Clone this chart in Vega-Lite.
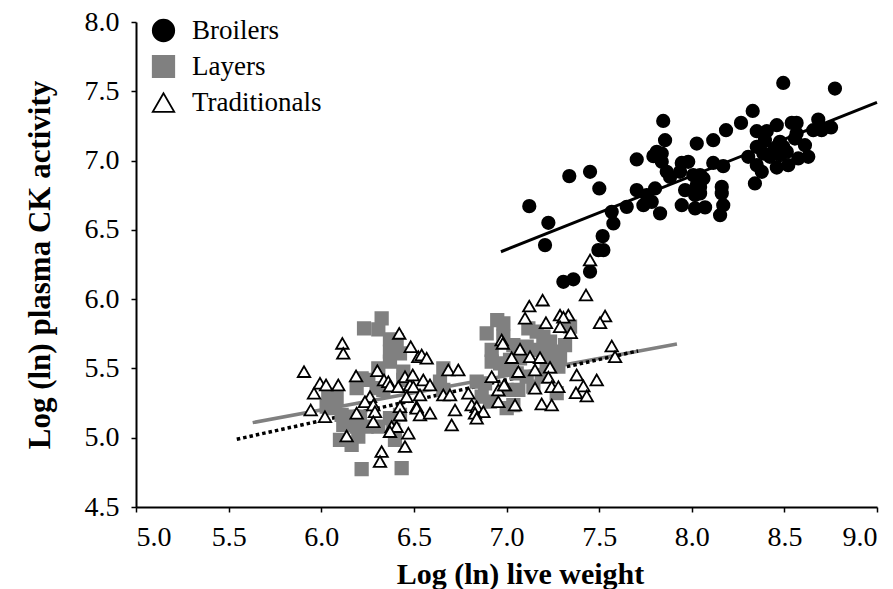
{
  "$schema": "https://vega.github.io/schema/vega-lite/v6.json",
  "width": 741,
  "height": 485,
  "autosize": "none",
  "padding": {"left": 136, "top": 22, "right": 16, "bottom": 82},
  "background": "white",
  "config": {
    "view": {"stroke": null},
    "font": "Liberation Serif",
    "axis": {"labelFont": "Liberation Serif", "titleFont": "Liberation Serif"},
    "legend": {"labelFont": "Liberation Serif"}
  },
  "datasets": {
    "points": [
      {"g":"Broilers","x":8.494,"y":7.56},{"g":"Broilers","x":8.773,"y":7.52},{"g":"Broilers","x":8.329,"y":7.358},{"g":"Broilers","x":7.846,"y":7.286},
      {"g":"Broilers","x":8.266,"y":7.272},{"g":"Broilers","x":8.459,"y":7.255},{"g":"Broilers","x":8.54,"y":7.272},{"g":"Broilers","x":8.566,"y":7.272},
      {"g":"Broilers","x":8.683,"y":7.296},{"g":"Broilers","x":8.185,"y":7.219},{"g":"Broilers","x":8.351,"y":7.212},{"g":"Broilers","x":8.405,"y":7.212},
      {"g":"Broilers","x":8.656,"y":7.219},{"g":"Broilers","x":8.701,"y":7.219},{"g":"Broilers","x":8.752,"y":7.239},{"g":"Broilers","x":7.856,"y":7.147},
      {"g":"Broilers","x":8.027,"y":7.123},{"g":"Broilers","x":8.116,"y":7.147},{"g":"Broilers","x":8.395,"y":7.147},{"g":"Broilers","x":8.476,"y":7.135},
      {"g":"Broilers","x":8.459,"y":7.099},{"g":"Broilers","x":8.494,"y":7.099},{"g":"Broilers","x":8.44,"y":7.063},{"g":"Broilers","x":8.513,"y":7.063},
      {"g":"Broilers","x":8.476,"y":7.039},{"g":"Broilers","x":8.422,"y":7.027},{"g":"Broilers","x":8.557,"y":7.159},{"g":"Broilers","x":8.611,"y":7.111},
      {"g":"Broilers","x":8.351,"y":7.099},{"g":"Broilers","x":8.386,"y":7.051},{"g":"Broilers","x":8.305,"y":7.027},{"g":"Broilers","x":8.575,"y":7.015},
      {"g":"Broilers","x":8.629,"y":7.027},{"g":"Broilers","x":8.521,"y":6.967},{"g":"Broilers","x":8.459,"y":6.95},{"g":"Broilers","x":8.351,"y":6.967},
      {"g":"Broilers","x":8.378,"y":6.919},{"g":"Broilers","x":8.341,"y":6.835},{"g":"Broilers","x":7.811,"y":7.063},{"g":"Broilers","x":7.838,"y":7.051},
      {"g":"Broilers","x":7.793,"y":7.032},{"g":"Broilers","x":7.838,"y":6.991},{"g":"Broilers","x":7.703,"y":7.008},{"g":"Broilers","x":7.946,"y":6.983},
      {"g":"Broilers","x":7.981,"y":6.991},{"g":"Broilers","x":8.116,"y":6.983},{"g":"Broilers","x":8.17,"y":6.96},{"g":"Broilers","x":7.865,"y":6.919},
      {"g":"Broilers","x":7.883,"y":6.882},{"g":"Broilers","x":7.937,"y":6.919},{"g":"Broilers","x":8.008,"y":6.895},{"g":"Broilers","x":8.045,"y":6.895},
      {"g":"Broilers","x":8.063,"y":6.871},{"g":"Broilers","x":8.027,"y":6.823},{"g":"Broilers","x":8.045,"y":6.81},{"g":"Broilers","x":7.964,"y":6.787},
      {"g":"Broilers","x":8.018,"y":6.751},{"g":"Broilers","x":8.045,"y":6.763},{"g":"Broilers","x":8.162,"y":6.81},{"g":"Broilers","x":8.162,"y":6.763},
      {"g":"Broilers","x":8.17,"y":6.678},{"g":"Broilers","x":8.153,"y":6.606},{"g":"Broilers","x":7.946,"y":6.678},{"g":"Broilers","x":8.018,"y":6.655},
      {"g":"Broilers","x":8.072,"y":6.662},{"g":"Broilers","x":7.829,"y":6.619},{"g":"Broilers","x":7.703,"y":6.787},{"g":"Broilers","x":7.802,"y":6.799},
      {"g":"Broilers","x":7.757,"y":6.751},{"g":"Broilers","x":7.784,"y":6.702},{"g":"Broilers","x":7.739,"y":6.678},{"g":"Broilers","x":7.649,"y":6.666},
      {"g":"Broilers","x":7.568,"y":6.63},{"g":"Broilers","x":7.577,"y":6.546},{"g":"Broilers","x":7.519,"y":6.455},{"g":"Broilers","x":7.496,"y":6.354},
      {"g":"Broilers","x":7.523,"y":6.354},{"g":"Broilers","x":7.451,"y":6.198},{"g":"Broilers","x":7.307,"y":6.125},{"g":"Broilers","x":7.361,"y":6.143},
      {"g":"Broilers","x":7.339,"y":6.888},{"g":"Broilers","x":7.451,"y":6.919},{"g":"Broilers","x":7.501,"y":6.799},{"g":"Broilers","x":7.123,"y":6.671},
      {"g":"Broilers","x":7.226,"y":6.551},{"g":"Broilers","x":7.208,"y":6.39},{"g":"Broilers","x":8.566,"y":7.195},

      {"g":"Layers","x":6.326,"y":5.862},{"g":"Layers","x":6.231,"y":5.789},{"g":"Layers","x":6.308,"y":5.782},{"g":"Layers","x":6.371,"y":5.71},
      {"g":"Layers","x":6.407,"y":5.705},{"g":"Layers","x":6.371,"y":5.621},{"g":"Layers","x":6.425,"y":5.609},{"g":"Layers","x":6.371,"y":5.549},
      {"g":"Layers","x":6.308,"y":5.501},{"g":"Layers","x":6.443,"y":5.477},{"g":"Layers","x":6.218,"y":5.429},{"g":"Layers","x":6.254,"y":5.417},
      {"g":"Layers","x":6.191,"y":5.357},{"g":"Layers","x":6.038,"y":5.309},{"g":"Layers","x":6.083,"y":5.285},{"g":"Layers","x":6.029,"y":5.224},
      {"g":"Layers","x":6.065,"y":5.213},{"g":"Layers","x":6.11,"y":5.164},{"g":"Layers","x":6.119,"y":5.092},{"g":"Layers","x":6.173,"y":5.152},
      {"g":"Layers","x":6.209,"y":5.152},{"g":"Layers","x":6.191,"y":5.08},{"g":"Layers","x":6.245,"y":5.08},{"g":"Layers","x":6.308,"y":5.08},
      {"g":"Layers","x":6.101,"y":4.984},{"g":"Layers","x":6.164,"y":4.948},{"g":"Layers","x":6.2,"y":5.008},{"g":"Layers","x":6.389,"y":5.056},
      {"g":"Layers","x":6.398,"y":4.984},{"g":"Layers","x":6.371,"y":5.141},{"g":"Layers","x":6.425,"y":5.164},{"g":"Layers","x":6.218,"y":4.773},
      {"g":"Layers","x":6.434,"y":4.78},{"g":"Layers","x":6.443,"y":5.417},{"g":"Layers","x":6.893,"y":5.753},{"g":"Layers","x":6.95,"y":5.849},
      {"g":"Layers","x":6.92,"y":5.633},{"g":"Layers","x":6.92,"y":5.549},{"g":"Layers","x":6.965,"y":5.537},{"g":"Layers","x":6.659,"y":5.501},
      {"g":"Layers","x":6.641,"y":5.404},{"g":"Layers","x":6.839,"y":5.404},{"g":"Layers","x":6.884,"y":5.393},{"g":"Layers","x":6.659,"y":5.345},
      {"g":"Layers","x":6.866,"y":5.296},{"g":"Layers","x":6.911,"y":5.26},{"g":"Layers","x":7.001,"y":5.213},{"g":"Layers","x":6.983,"y":5.826},
      {"g":"Layers","x":6.983,"y":5.729},{"g":"Layers","x":7.118,"y":5.789},{"g":"Layers","x":7.163,"y":5.765},{"g":"Layers","x":7.199,"y":5.729},
      {"g":"Layers","x":7.235,"y":5.693},{"g":"Layers","x":7.343,"y":5.801},{"g":"Layers","x":7.316,"y":5.669},{"g":"Layers","x":7.037,"y":5.669},
      {"g":"Layers","x":7.109,"y":5.657},{"g":"Layers","x":7.181,"y":5.633},{"g":"Layers","x":7.019,"y":5.561},{"g":"Layers","x":7.073,"y":5.573},
      {"g":"Layers","x":7.253,"y":5.621},{"g":"Layers","x":7.289,"y":5.573},{"g":"Layers","x":7.217,"y":5.537},{"g":"Layers","x":7.28,"y":5.513},
      {"g":"Layers","x":6.992,"y":5.489},{"g":"Layers","x":7.055,"y":5.465},{"g":"Layers","x":7.109,"y":5.44},{"g":"Layers","x":7.19,"y":5.44},
      {"g":"Layers","x":7.001,"y":5.345},{"g":"Layers","x":7.064,"y":5.345},{"g":"Layers","x":7.145,"y":5.368},{"g":"Layers","x":7.271,"y":5.321},
      {"g":"Layers","x":7.037,"y":5.236},{"g":"Layers","x":6.299,"y":5.357},{"g":"Layers","x":6.335,"y":5.345},

      {"g":"Traditionals","x":6.114,"y":5.681},{"g":"Traditionals","x":6.119,"y":5.609},{"g":"Traditionals","x":6.421,"y":5.753},{"g":"Traditionals","x":6.483,"y":5.657},
      {"g":"Traditionals","x":6.524,"y":5.585},{"g":"Traditionals","x":5.907,"y":5.477},{"g":"Traditionals","x":5.993,"y":5.393},{"g":"Traditionals","x":6.026,"y":5.381},
      {"g":"Traditionals","x":6.092,"y":5.381},{"g":"Traditionals","x":5.961,"y":5.321},{"g":"Traditionals","x":5.943,"y":5.2},{"g":"Traditionals","x":6.02,"y":5.152},
      {"g":"Traditionals","x":6.188,"y":5.446},{"g":"Traditionals","x":6.303,"y":5.484},{"g":"Traditionals","x":6.339,"y":5.417},{"g":"Traditionals","x":6.362,"y":5.404},
      {"g":"Traditionals","x":6.371,"y":5.373},{"g":"Traditionals","x":6.416,"y":5.368},{"g":"Traditionals","x":6.452,"y":5.44},{"g":"Traditionals","x":6.479,"y":5.381},
      {"g":"Traditionals","x":6.494,"y":5.453},{"g":"Traditionals","x":6.263,"y":5.296},{"g":"Traditionals","x":6.236,"y":5.26},{"g":"Traditionals","x":6.281,"y":5.236},
      {"g":"Traditionals","x":6.191,"y":5.177},{"g":"Traditionals","x":6.29,"y":5.188},{"g":"Traditionals","x":6.281,"y":5.116},{"g":"Traditionals","x":6.425,"y":5.224},
      {"g":"Traditionals","x":6.425,"y":5.164},{"g":"Traditionals","x":6.461,"y":5.296},{"g":"Traditionals","x":6.515,"y":5.224},{"g":"Traditionals","x":6.38,"y":5.08},
      {"g":"Traditionals","x":6.407,"y":5.08},{"g":"Traditionals","x":6.371,"y":5.044},{"g":"Traditionals","x":6.47,"y":5.032},{"g":"Traditionals","x":6.137,"y":5.013},
      {"g":"Traditionals","x":6.452,"y":4.936},{"g":"Traditionals","x":6.326,"y":4.9},{"g":"Traditionals","x":6.317,"y":4.828},{"g":"Traditionals","x":6.542,"y":5.597},
      {"g":"Traditionals","x":6.569,"y":5.573},{"g":"Traditionals","x":6.686,"y":5.489},{"g":"Traditionals","x":6.74,"y":5.489},{"g":"Traditionals","x":6.551,"y":5.417},
      {"g":"Traditionals","x":6.497,"y":5.368},{"g":"Traditionals","x":6.533,"y":5.309},{"g":"Traditionals","x":6.587,"y":5.381},{"g":"Traditionals","x":6.659,"y":5.309},
      {"g":"Traditionals","x":6.695,"y":5.309},{"g":"Traditionals","x":6.794,"y":5.321},{"g":"Traditionals","x":6.92,"y":5.44},{"g":"Traditionals","x":6.974,"y":5.705},
      {"g":"Traditionals","x":6.956,"y":5.345},{"g":"Traditionals","x":6.992,"y":5.381},{"g":"Traditionals","x":6.956,"y":5.26},{"g":"Traditionals","x":6.515,"y":5.213},
      {"g":"Traditionals","x":6.533,"y":5.164},{"g":"Traditionals","x":6.587,"y":5.177},{"g":"Traditionals","x":6.722,"y":5.2},{"g":"Traditionals","x":6.812,"y":5.236},
      {"g":"Traditionals","x":6.839,"y":5.224},{"g":"Traditionals","x":6.875,"y":5.188},{"g":"Traditionals","x":6.83,"y":5.177},{"g":"Traditionals","x":6.839,"y":5.141},
      {"g":"Traditionals","x":6.704,"y":5.092},{"g":"Traditionals","x":7.195,"y":5.993},{"g":"Traditionals","x":7.123,"y":5.95},{"g":"Traditionals","x":7.429,"y":6.03},
      {"g":"Traditionals","x":7.289,"y":5.885},{"g":"Traditionals","x":7.334,"y":5.885},{"g":"Traditionals","x":7.307,"y":5.869},{"g":"Traditionals","x":7.1,"y":5.862},
      {"g":"Traditionals","x":7.213,"y":5.83},{"g":"Traditionals","x":7.289,"y":5.801},{"g":"Traditionals","x":7.347,"y":5.758},{"g":"Traditionals","x":7.532,"y":5.878},
      {"g":"Traditionals","x":7.505,"y":5.83},{"g":"Traditionals","x":6.98,"y":5.681},{"g":"Traditionals","x":7.073,"y":5.638},{"g":"Traditionals","x":7.028,"y":5.578},
      {"g":"Traditionals","x":7.127,"y":5.585},{"g":"Traditionals","x":7.181,"y":5.578},{"g":"Traditionals","x":7.568,"y":5.662},{"g":"Traditionals","x":7.586,"y":5.585},
      {"g":"Traditionals","x":7.235,"y":5.508},{"g":"Traditionals","x":7.154,"y":5.489},{"g":"Traditionals","x":7.064,"y":5.477},{"g":"Traditionals","x":7.379,"y":5.453},
      {"g":"Traditionals","x":7.487,"y":5.417},{"g":"Traditionals","x":7.226,"y":5.436},{"g":"Traditionals","x":7.244,"y":5.368},{"g":"Traditionals","x":7.28,"y":5.368},
      {"g":"Traditionals","x":7.415,"y":5.373},{"g":"Traditionals","x":7.154,"y":5.357},{"g":"Traditionals","x":7.375,"y":5.325},{"g":"Traditionals","x":7.433,"y":5.301},
      {"g":"Traditionals","x":6.987,"y":5.381},{"g":"Traditionals","x":7.19,"y":5.244},{"g":"Traditionals","x":7.244,"y":5.236},{"g":"Traditionals","x":7.046,"y":5.236},
      {"g":"Traditionals","x":7.451,"y":6.282}
    ],
    "fits": [
      {"fit":"Broilers","x":6.97,"y":6.342},{"fit":"Broilers","x":9.0,"y":7.42},
      {"fit":"Layers","x":5.63,"y":5.109},{"fit":"Layers","x":7.92,"y":5.676},
      {"fit":"Traditionals","x":5.544,"y":4.989},{"fit":"Traditionals","x":7.71,"y":5.626}
    ]
  },
  "encoding": {
    "x": {
      "field": "x", "type": "quantitative",
      "scale": {"domain": [5, 9], "nice": false, "zero": false},
      "axis": {
        "title": "Log (ln) live weight",
        "values": [5, 5.5, 6, 6.5, 7, 7.5, 8, 8.5, 9],
        "format": ".1f", "grid": false,
        "domainColor": "black", "domainWidth": 2,
        "tickColor": "black", "tickSize": 5, "tickWidth": 1.5,
        "labelFont": "Liberation Serif", "labelFontSize": 28, "labelColor": "black", "labelPadding": 11,
        "titleFont": "Liberation Serif", "titleFontSize": 30, "titleFontWeight": "bold", "titleColor": "black", "titlePadding": 8,
        "titleX": 384
      }
    },
    "y": {
      "field": "y", "type": "quantitative",
      "scale": {"domain": [4.5, 8], "nice": false, "zero": false},
      "axis": {
        "title": "Log (ln) plasma CK activity",
        "values": [4.5, 5, 5.5, 6, 6.5, 7, 7.5, 8],
        "format": ".1f", "grid": false,
        "domainColor": "black", "domainWidth": 2,
        "tickColor": "black", "tickSize": 5, "tickWidth": 1.5,
        "labelFont": "Liberation Serif", "labelFontSize": 28, "labelColor": "black", "labelPadding": 12,
        "titleFont": "Liberation Serif", "titleFontSize": 31, "titleFontWeight": "bold", "titleColor": "black", "titlePadding": 28
      }
    }
  },
  "layer": [
    {
      "data": {"name": "fits"},
      "transform": [{"filter": "datum.fit === 'Layers'"}],
      "mark": {"type": "line", "color": "#808080", "strokeWidth": 3.5},
      "encoding": {}
    },
    {
      "data": {"name": "fits"},
      "transform": [{"filter": "datum.fit === 'Traditionals'"}],
      "mark": {"type": "line", "color": "black", "strokeWidth": 3.5, "strokeDash": [3.5, 3], "strokeCap": "butt"},
      "encoding": {}
    },
    {
      "data": {"name": "points"},
      "mark": {"type": "point", "filled": true, "strokeWidth": 1.8, "opacity": 1, "size": 155},
      "encoding": {
        "shape": {
          "field": "g", "type": "nominal",
          "scale": {"domain": ["Broilers", "Layers", "Traditionals"], "range": ["circle", "square", "triangle-up"]},
          "legend": {"title": null, "orient": "none", "legendX": 14, "legendY": -5, "symbolSize": 460, "symbolStrokeWidth": 1.8, "labelFont": "Liberation Serif", "labelFontSize": 27, "labelColor": "black", "labelOffset": 15, "rowPadding": 7, "padding": 0}
        },
        "fill": {
          "field": "g", "type": "nominal",
          "scale": {"domain": ["Broilers", "Layers", "Traditionals"], "range": ["black", "#808080", "white"]},
          "legend": {"title": null, "orient": "none", "legendX": 14, "legendY": -5, "symbolSize": 460, "symbolStrokeWidth": 1.8, "labelFont": "Liberation Serif", "labelFontSize": 27, "labelColor": "black", "labelOffset": 15, "rowPadding": 7, "padding": 0}
        },
        "stroke": {
          "field": "g", "type": "nominal",
          "scale": {"domain": ["Broilers", "Layers", "Traditionals"], "range": ["black", "#808080", "black"]},
          "legend": {"title": null, "orient": "none", "legendX": 14, "legendY": -5, "symbolSize": 460, "symbolStrokeWidth": 1.8, "labelFont": "Liberation Serif", "labelFontSize": 27, "labelColor": "black", "labelOffset": 15, "rowPadding": 7, "padding": 0}
        }
      }
    },
    {
      "data": {"name": "fits"},
      "transform": [{"filter": "datum.fit === 'Broilers'"}],
      "mark": {"type": "line", "color": "black", "strokeWidth": 3},
      "encoding": {}
    }
  ]
}
